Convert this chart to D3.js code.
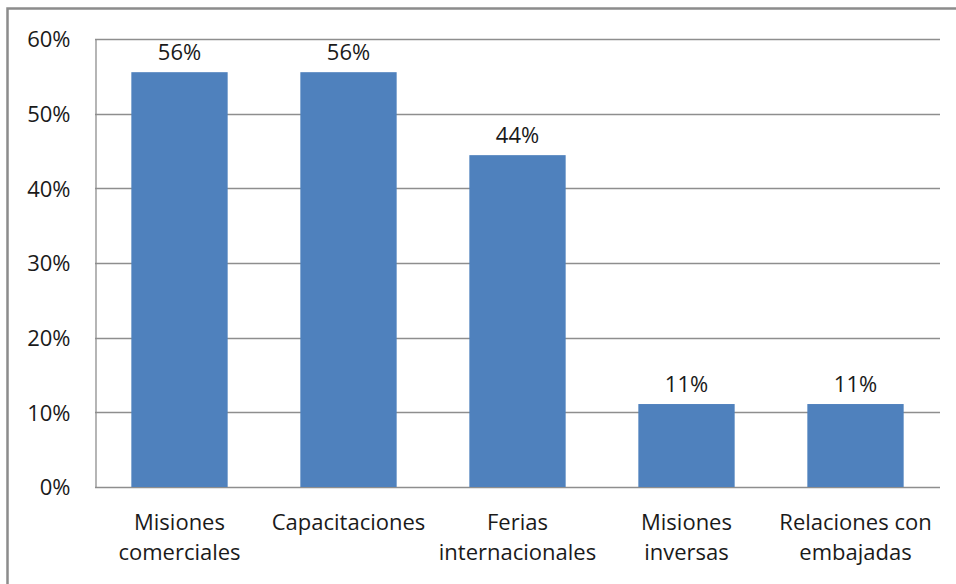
<!DOCTYPE html>
<html>
<head>
<meta charset="utf-8">
<script src="https://cdn.jsdelivr.net/npm/d3@7"></script>
<style>
  html, body { margin: 0; padding: 0; background: #fff; }
  svg { display: block; }
  text { font-family: "Open Sans", sans-serif; fill: #1a1a1a; }
</style>
</head>
<body>
<svg id="chart" width="956" height="584"></svg>
<script>
// Share of companies using each promotion instrument
const categories = [
  ["Misiones", "comerciales"],
  ["Capacitaciones"],
  ["Ferias", "internacionales"],
  ["Misiones", "inversas"],
  ["Relaciones con", "embajadas"]
];
const values = [5 / 9, 5 / 9, 4 / 9, 1 / 9, 1 / 9];
const yTicks = [0, 0.1, 0.2, 0.3, 0.4, 0.5, 0.6];

const W = 956, H = 584;
const margin = { top: 39, right: 16, bottom: 97, left: 95 };
const fontSize = "22px";
const svg = d3.select("#chart");

// outer frame (top and left edges visible)
svg.append("path")
  .attr("d", `M7.5,${H + 2} V8.5 H${W + 2}`)
  .attr("fill", "none")
  .attr("stroke", "#8c8c8c")
  .attr("stroke-width", 2.5);

const x = d3.scaleBand()
  .domain(categories.map((d, i) => i))
  .range([margin.left, W - margin.right])
  .paddingInner(0.43)
  .paddingOuter(0.215);

const y = d3.scaleLinear()
  .domain([0, 0.6])
  .range([H - margin.bottom, margin.top]);

// horizontal gridlines
svg.append("g")
  .selectAll("line")
  .data(yTicks)
  .join("line")
  .attr("x1", margin.left)
  .attr("x2", W - margin.right)
  .attr("y1", d => Math.round(y(d)) + 0.5)
  .attr("y2", d => Math.round(y(d)) + 0.5)
  .attr("stroke", "#8e8e8e")
  .attr("stroke-width", 1.3);

// y axis
const yAxis = svg.append("g")
  .attr("transform", `translate(${margin.left + 0.5},0)`)
  .call(d3.axisLeft(y).tickValues(yTicks).tickFormat(d3.format(".0%")).tickSize(0).tickPadding(25));
yAxis.select(".domain").attr("stroke", "#8e8e8e").attr("stroke-width", 1.3);
yAxis.selectAll("text")
  .style("font-size", fontSize)
  .attr("dy", "0.36em")
  .style("font-family", "'Open Sans', sans-serif")
  .attr("fill", "#1a1a1a");

// bars
svg.append("g")
  .selectAll("rect")
  .data(values)
  .join("rect")
  .attr("x", (d, i) => x(i))
  .attr("width", x.bandwidth())
  .attr("y", d => y(d))
  .attr("height", d => y(0) - y(d))
  .attr("fill", "#4f81bd");

// value labels
svg.append("g")
  .selectAll("text")
  .data(values)
  .join("text")
  .attr("x", (d, i) => x(i) + x.bandwidth() / 2)
  .attr("y", d => y(d) - 12)
  .attr("text-anchor", "middle")
  .style("font-size", fontSize)
  .text(d => d3.format(".0%")(d));

// category labels
const cat = svg.append("g")
  .selectAll("text")
  .data(categories)
  .join("text")
  .attr("x", (d, i) => x(i) + x.bandwidth() / 2)
  .attr("y", 530)
  .attr("text-anchor", "middle")
  .style("font-size", fontSize);
cat.selectAll("tspan")
  .data(d => d)
  .join("tspan")
  .attr("x", function () { return d3.select(this.parentNode).attr("x"); })
  .attr("dy", (d, i) => i === 0 ? 0 : 30)
  .text(d => d);
</script>
</body>
</html>
